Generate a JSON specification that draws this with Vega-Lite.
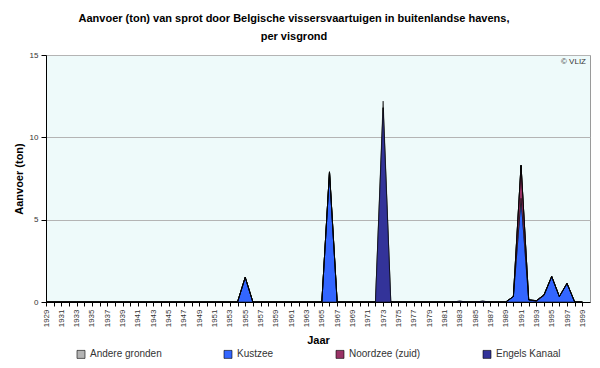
{
  "$schema": "https://vega.github.io/schema/vega-lite/v6.json",
  "width": 544,
  "height": 247,
  "autosize": {"type": "none"},
  "padding": {"left": 46, "top": 55, "right": 10, "bottom": 66},
  "background": "white",
  "config": {
    "font": "Liberation Sans",
    "view": {"fill": "#EEFAFA", "stroke": "#9a9a9a", "strokeWidth": 1},
    "axis": {"labelOverlap": false}
  },
  "title": {
    "text": ["Aanvoer (ton) van sprot door Belgische vissersvaartuigen in buitenlandse havens,", "per visgrond"],
    "fontSize": 11,
    "fontWeight": "bold",
    "font": "Liberation Sans",
    "anchor": "middle",
    "dx": -24,
    "offset": 9,
    "lineHeight": 18,
    "color": "#000"
  },
  "resolve": {"axis": {"x": "independent", "y": "independent"}},
  "datasets": {
    "sprot": [
      {"Jaar":1929,"Andere gronden":0,"Kustzee":0,"Noordzee (zuid)":0,"Engels Kanaal":0},
      {"Jaar":1930,"Andere gronden":0,"Kustzee":0,"Noordzee (zuid)":0,"Engels Kanaal":0},
      {"Jaar":1931,"Andere gronden":0,"Kustzee":0,"Noordzee (zuid)":0,"Engels Kanaal":0},
      {"Jaar":1932,"Andere gronden":0,"Kustzee":0,"Noordzee (zuid)":0,"Engels Kanaal":0},
      {"Jaar":1933,"Andere gronden":0,"Kustzee":0,"Noordzee (zuid)":0,"Engels Kanaal":0},
      {"Jaar":1934,"Andere gronden":0,"Kustzee":0,"Noordzee (zuid)":0,"Engels Kanaal":0},
      {"Jaar":1935,"Andere gronden":0,"Kustzee":0,"Noordzee (zuid)":0,"Engels Kanaal":0},
      {"Jaar":1936,"Andere gronden":0,"Kustzee":0,"Noordzee (zuid)":0,"Engels Kanaal":0},
      {"Jaar":1937,"Andere gronden":0,"Kustzee":0,"Noordzee (zuid)":0,"Engels Kanaal":0},
      {"Jaar":1938,"Andere gronden":0,"Kustzee":0,"Noordzee (zuid)":0,"Engels Kanaal":0},
      {"Jaar":1939,"Andere gronden":0,"Kustzee":0,"Noordzee (zuid)":0,"Engels Kanaal":0},
      {"Jaar":1940,"Andere gronden":0,"Kustzee":0,"Noordzee (zuid)":0,"Engels Kanaal":0},
      {"Jaar":1941,"Andere gronden":0,"Kustzee":0,"Noordzee (zuid)":0,"Engels Kanaal":0},
      {"Jaar":1942,"Andere gronden":0,"Kustzee":0,"Noordzee (zuid)":0,"Engels Kanaal":0},
      {"Jaar":1943,"Andere gronden":0,"Kustzee":0,"Noordzee (zuid)":0,"Engels Kanaal":0},
      {"Jaar":1944,"Andere gronden":0,"Kustzee":0,"Noordzee (zuid)":0,"Engels Kanaal":0},
      {"Jaar":1945,"Andere gronden":0,"Kustzee":0,"Noordzee (zuid)":0,"Engels Kanaal":0},
      {"Jaar":1946,"Andere gronden":0,"Kustzee":0,"Noordzee (zuid)":0,"Engels Kanaal":0},
      {"Jaar":1947,"Andere gronden":0,"Kustzee":0,"Noordzee (zuid)":0,"Engels Kanaal":0},
      {"Jaar":1948,"Andere gronden":0,"Kustzee":0,"Noordzee (zuid)":0,"Engels Kanaal":0},
      {"Jaar":1949,"Andere gronden":0,"Kustzee":0,"Noordzee (zuid)":0,"Engels Kanaal":0},
      {"Jaar":1950,"Andere gronden":0,"Kustzee":0,"Noordzee (zuid)":0,"Engels Kanaal":0},
      {"Jaar":1951,"Andere gronden":0,"Kustzee":0,"Noordzee (zuid)":0,"Engels Kanaal":0},
      {"Jaar":1952,"Andere gronden":0,"Kustzee":0,"Noordzee (zuid)":0,"Engels Kanaal":0},
      {"Jaar":1953,"Andere gronden":0,"Kustzee":0,"Noordzee (zuid)":0,"Engels Kanaal":0},
      {"Jaar":1954,"Andere gronden":0,"Kustzee":0,"Noordzee (zuid)":0,"Engels Kanaal":0},
      {"Jaar":1955,"Andere gronden":0,"Kustzee":1.5,"Noordzee (zuid)":0,"Engels Kanaal":0},
      {"Jaar":1956,"Andere gronden":0,"Kustzee":0,"Noordzee (zuid)":0,"Engels Kanaal":0},
      {"Jaar":1957,"Andere gronden":0,"Kustzee":0,"Noordzee (zuid)":0,"Engels Kanaal":0},
      {"Jaar":1958,"Andere gronden":0,"Kustzee":0,"Noordzee (zuid)":0,"Engels Kanaal":0},
      {"Jaar":1959,"Andere gronden":0,"Kustzee":0,"Noordzee (zuid)":0,"Engels Kanaal":0},
      {"Jaar":1960,"Andere gronden":0,"Kustzee":0,"Noordzee (zuid)":0,"Engels Kanaal":0},
      {"Jaar":1961,"Andere gronden":0,"Kustzee":0,"Noordzee (zuid)":0,"Engels Kanaal":0},
      {"Jaar":1962,"Andere gronden":0,"Kustzee":0,"Noordzee (zuid)":0,"Engels Kanaal":0},
      {"Jaar":1963,"Andere gronden":0,"Kustzee":0,"Noordzee (zuid)":0,"Engels Kanaal":0},
      {"Jaar":1964,"Andere gronden":0,"Kustzee":0,"Noordzee (zuid)":0,"Engels Kanaal":0},
      {"Jaar":1965,"Andere gronden":0,"Kustzee":0,"Noordzee (zuid)":0,"Engels Kanaal":0},
      {"Jaar":1966,"Andere gronden":0,"Kustzee":7.9,"Noordzee (zuid)":0,"Engels Kanaal":0},
      {"Jaar":1967,"Andere gronden":0,"Kustzee":0,"Noordzee (zuid)":0,"Engels Kanaal":0},
      {"Jaar":1968,"Andere gronden":0,"Kustzee":0,"Noordzee (zuid)":0,"Engels Kanaal":0},
      {"Jaar":1969,"Andere gronden":0,"Kustzee":0,"Noordzee (zuid)":0,"Engels Kanaal":0},
      {"Jaar":1970,"Andere gronden":0,"Kustzee":0,"Noordzee (zuid)":0,"Engels Kanaal":0},
      {"Jaar":1971,"Andere gronden":0,"Kustzee":0,"Noordzee (zuid)":0,"Engels Kanaal":0},
      {"Jaar":1972,"Andere gronden":0,"Kustzee":0,"Noordzee (zuid)":0,"Engels Kanaal":0},
      {"Jaar":1973,"Andere gronden":0.4,"Kustzee":0,"Noordzee (zuid)":0,"Engels Kanaal":11.8},
      {"Jaar":1974,"Andere gronden":0,"Kustzee":0,"Noordzee (zuid)":0,"Engels Kanaal":0},
      {"Jaar":1975,"Andere gronden":0,"Kustzee":0,"Noordzee (zuid)":0,"Engels Kanaal":0},
      {"Jaar":1976,"Andere gronden":0,"Kustzee":0,"Noordzee (zuid)":0,"Engels Kanaal":0},
      {"Jaar":1977,"Andere gronden":0,"Kustzee":0,"Noordzee (zuid)":0,"Engels Kanaal":0},
      {"Jaar":1978,"Andere gronden":0,"Kustzee":0,"Noordzee (zuid)":0,"Engels Kanaal":0},
      {"Jaar":1979,"Andere gronden":0,"Kustzee":0,"Noordzee (zuid)":0,"Engels Kanaal":0},
      {"Jaar":1980,"Andere gronden":0,"Kustzee":0,"Noordzee (zuid)":0,"Engels Kanaal":0},
      {"Jaar":1981,"Andere gronden":0,"Kustzee":0,"Noordzee (zuid)":0,"Engels Kanaal":0},
      {"Jaar":1982,"Andere gronden":0,"Kustzee":0,"Noordzee (zuid)":0,"Engels Kanaal":0},
      {"Jaar":1983,"Andere gronden":0,"Kustzee":0,"Noordzee (zuid)":0,"Engels Kanaal":0.05},
      {"Jaar":1984,"Andere gronden":0,"Kustzee":0,"Noordzee (zuid)":0,"Engels Kanaal":0},
      {"Jaar":1985,"Andere gronden":0,"Kustzee":0,"Noordzee (zuid)":0,"Engels Kanaal":0},
      {"Jaar":1986,"Andere gronden":0,"Kustzee":0,"Noordzee (zuid)":0,"Engels Kanaal":0.05},
      {"Jaar":1987,"Andere gronden":0,"Kustzee":0,"Noordzee (zuid)":0,"Engels Kanaal":0},
      {"Jaar":1988,"Andere gronden":0,"Kustzee":0,"Noordzee (zuid)":0,"Engels Kanaal":0},
      {"Jaar":1989,"Andere gronden":0,"Kustzee":0,"Noordzee (zuid)":0,"Engels Kanaal":0},
      {"Jaar":1990,"Andere gronden":0,"Kustzee":0.33,"Noordzee (zuid)":0,"Engels Kanaal":0},
      {"Jaar":1991,"Andere gronden":0,"Kustzee":6.3,"Noordzee (zuid)":2.0,"Engels Kanaal":0},
      {"Jaar":1992,"Andere gronden":0,"Kustzee":0.13,"Noordzee (zuid)":0,"Engels Kanaal":0},
      {"Jaar":1993,"Andere gronden":0,"Kustzee":0.05,"Noordzee (zuid)":0.03,"Engels Kanaal":0},
      {"Jaar":1994,"Andere gronden":0,"Kustzee":0.4,"Noordzee (zuid)":0.04,"Engels Kanaal":0},
      {"Jaar":1995,"Andere gronden":0,"Kustzee":1.55,"Noordzee (zuid)":0,"Engels Kanaal":0},
      {"Jaar":1996,"Andere gronden":0,"Kustzee":0.33,"Noordzee (zuid)":0,"Engels Kanaal":0},
      {"Jaar":1997,"Andere gronden":0,"Kustzee":1.13,"Noordzee (zuid)":0,"Engels Kanaal":0},
      {"Jaar":1998,"Andere gronden":0,"Kustzee":0,"Noordzee (zuid)":0,"Engels Kanaal":0},
      {"Jaar":1999,"Andere gronden":0,"Kustzee":0,"Noordzee (zuid)":0,"Engels Kanaal":0}
    ]
  },
  "layer": [
    {
      "data": {"name": "sprot"},
      "transform": [
        {"fold": ["Andere gronden", "Kustzee", "Noordzee (zuid)", "Engels Kanaal"], "as": ["Visgrond", "Aanvoer"]},
        {"calculate": "indexof(['Kustzee','Noordzee (zuid)','Engels Kanaal','Andere gronden'], datum.Visgrond)", "as": "volgorde"}
      ],
      "mark": {"type": "area", "stroke": "#000", "strokeWidth": 0.6, "interpolate": "linear"},
      "encoding": {
        "x": {
          "field": "Jaar", "type": "quantitative",
          "scale": {"domain": [1929, 2000], "nice": false, "zero": false},
          "axis": {
            "title": "Jaar",
            "titleFontSize": 11, "titleFontWeight": "bold", "titleColor": "#000", "titlePadding": 8,
            "values": [1929,1930,1931,1932,1933,1934,1935,1936,1937,1938,1939,1940,1941,1942,1943,1944,1945,1946,1947,1948,1949,1950,1951,1952,1953,1954,1955,1956,1957,1958,1959,1960,1961,1962,1963,1964,1965,1966,1967,1968,1969,1970,1971,1972,1973,1974,1975,1976,1977,1978,1979,1980,1981,1982,1983,1984,1985,1986,1987,1988,1989,1990,1991,1992,1993,1994,1995,1996,1997,1998,1999],
            "format": "d",
            "labelExpr": "datum.value % 2 == 1 ? datum.label : ''",
            "labelAngle": 270,
            "labelFontSize": 8, "labelColor": "#333", "labelPadding": 3,
            "labelOverlap": false, "labelBound": false, "labelFlush": false,
            "tickSize": 4, "tickColor": "#000", "domainColor": "#000",
            "grid": false
          }
        },
        "y": {
          "field": "Aanvoer", "type": "quantitative", "stack": "zero",
          "scale": {"domain": [0, 15], "nice": false},
          "axis": {
            "title": "Aanvoer (ton)",
            "titleFontSize": 11, "titleFontWeight": "bold", "titleColor": "#000", "titlePadding": 5,
            "values": [0, 5, 10, 15],
            "labelFontSize": 8, "labelColor": "#333", "labelPadding": 3,
            "tickSize": 5, "tickColor": "#000", "domainColor": "#000",
            "grid": true, "gridColor": "#b4b4b4", "gridWidth": 1
          }
        },
        "color": {
          "field": "Visgrond", "type": "nominal",
          "scale": {
            "domain": ["Andere gronden", "Kustzee", "Noordzee (zuid)", "Engels Kanaal"],
            "range": ["#B4B4B4", "#3366FF", "#993366", "#333399"]
          },
          "legend": {
            "title": null,
            "orient": "none",
            "legendX": 30,
            "legendY": 294,
            "direction": "horizontal",
            "symbolType": "square",
            "symbolSize": 64,
            "symbolStrokeColor": "#000",
            "symbolStrokeWidth": 0.6,
            "labelFontSize": 10,
            "labelColor": "#333",
            "columnPadding": 60
          }
        },
        "order": {"field": "volgorde", "type": "quantitative"}
      }
    },
    {
      "data": {"values": [{"tekst": "© VLIZ"}]},
      "mark": {"type": "text", "align": "right", "baseline": "top", "dx": -4, "dy": 3, "fontSize": 8, "color": "#333"},
      "encoding": {
        "x": {"datum": 2000, "type": "quantitative", "axis": null},
        "y": {"datum": 15, "type": "quantitative", "axis": null},
        "text": {"field": "tekst", "type": "nominal"}
      }
    }
  ]
}
